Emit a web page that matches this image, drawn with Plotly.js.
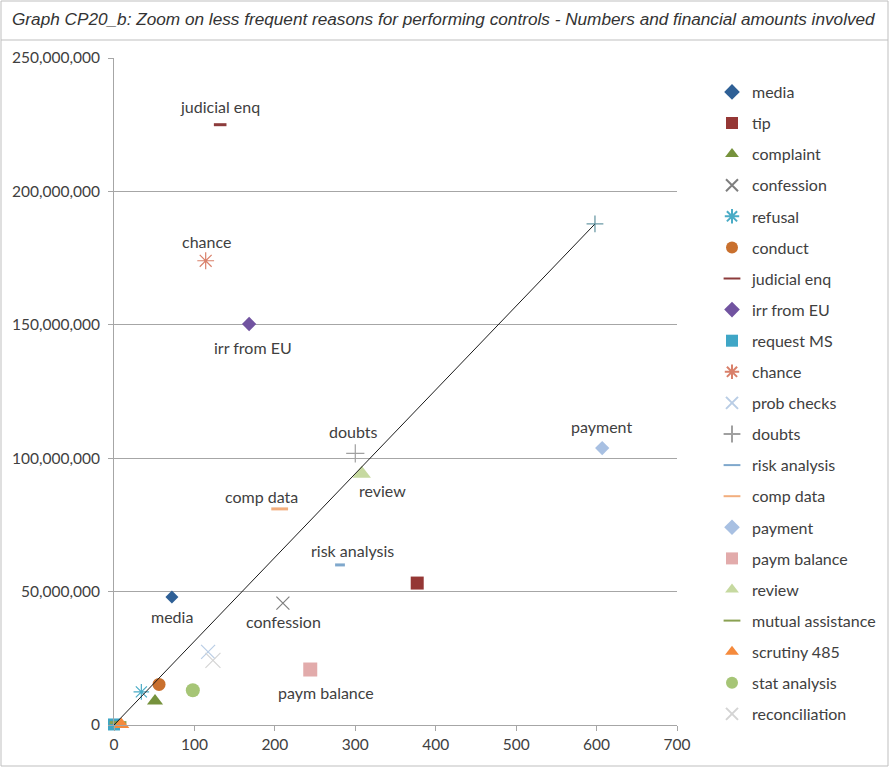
<!DOCTYPE html>
<html>
<head>
<meta charset="utf-8">
<script src="https://cdn.plot.ly/plotly-3.0.1.min.js"></script>
<style>
  html, body { margin: 0; padding: 0; background: #fff; }
  #chart { width: 889px; height: 767px; }
</style>
</head>
<body>
<div id="chart"></div>
<script>
// Reasons for performing controls: number of controls (x) vs. financial amount (y)
const reasons = ["media", "tip", "complaint", "confession", "refusal", "conduct",
  "judicial enq", "irr from EU", "request MS", "chance", "prob checks", "doubts",
  "risk analysis", "comp data", "payment", "paym balance", "review",
  "mutual assistance", "scrutiny 485", "stat analysis", "reconciliation"];
const numbers = [72, 377, 51, 210, 34, 56, 132, 168, 0, 114, 117, 300,
  281, 206, 607, 244, 308, 5, 9, 98, 123];
const amounts = [48000000, 53200000, 9000000, 45700000, 12400000, 15200000,
  225000000, 150300000, 200000, 174000000, 27400000, 101800000,
  60000000, 81000000, 103800000, 20800000, 94200000, 900000, 200000, 13000000, 24200000];

// Trend line through the origin
const trendX = [0, 598];
const trendY = [0, 187800000];

const symbols = ["diamond", "square", "triangle-up", "x-thin-open", "asterisk-open", "circle",
  "line-ew", "diamond", "square", "asterisk-open", "x-thin-open", "cross-thin-open",
  "line-ew", "line-ew", "diamond", "square", "triangle-up",
  "line-ew", "triangle-up", "circle", "x-thin-open"];
const colors = ["#2f6096", "#953735", "#76923c", "#7f7f7f", "#4bacc6", "#c9702e",
  "#8c3b3b", "#7153a0", "#3fa6c6", "#d9806a", "#b9cde5", "#a0a0a0",
  "#7fa8cc", "#f2ae7e", "#a8c0e2", "#e2abab", "#c6d9a0",
  "#8aa152", "#f58a3c", "#a6c576", "#d4d4d4"];
const sizes = [10, 13, 14, 13, 13, 13, 9, 11, 12, 14, 14, 13,
  7, 12, 11, 14, 16, 12, 14, 14, 15];

// Labels placed beside selected points (pixel offsets)
const labelled = {
  "media": [0, -20], "confession": [1, -18], "paym balance": [16, -23],
  "risk analysis": [12, 14], "comp data": [-18, 12], "review": [21, -17],
  "doubts": [-2, 22], "payment": [-1, 22], "irr from EU": [4, -23],
  "chance": [1, 19], "judicial enq": [0, 18]
};

const labelFont = { family: "Lato, 'Open Sans', sans-serif", size: 16, color: "#404040" };
const tickFont = { family: "Lato, 'Open Sans', sans-serif", size: 15.5, color: "#404040" };

const traces = reasons.map((name, i) => {
  const lineSym = symbols[i] === "line-ew";
  const thin = symbols[i].indexOf("open") >= 0;
  return {
    type: "scatter", mode: "markers", name: name,
    x: [numbers[i]], y: [amounts[i]],
    legendgroup: "g" + i,
    cliponaxis: false,
    marker: {
      symbol: symbols[i], size: sizes[i], color: colors[i],
      line: { color: colors[i], width: lineSym ? 3 : (thin ? 1.2 : 0) }
    },
    hoverinfo: "name+x+y"
  };
});

traces.push({
  type: "scatter", mode: "lines+markers", x: trendX, y: trendY,
  showlegend: false, hoverinfo: "skip", cliponaxis: false,
  line: { color: "#1a1a1a", width: 1 },
  marker: { symbol: "cross-thin-open", size: [0, 12], color: "#2c6f80",
            line: { color: "#2c6f80", width: 1.3 } }
});

const annotations = Object.keys(labelled).map(name => {
  const i = reasons.indexOf(name);
  return {
    x: numbers[i], y: amounts[i], xref: "x", yref: "y",
    text: name, showarrow: false,
    xshift: labelled[name][0], yshift: labelled[name][1],
    font: labelFont
  };
});

const layout = {
  width: 889, height: 767,
  margin: { l: 114, r: 212, t: 58, b: 42, autoexpand: false },
  paper_bgcolor: "#ffffff", plot_bgcolor: "#ffffff",
  title: {
    text: "Graph CP20_b: Zoom on less frequent reasons for performing controls - Numbers and financial amounts involved",
    font: { family: "'Liberation Sans', Arial, sans-serif", size: 17.2, color: "#333333", style: "italic" },
    x: 12 / 889, xanchor: "left", xref: "container",
    y: 1 - 19 / 767, yanchor: "middle", yref: "container"
  },
  xaxis: {
    range: [0, 700], dtick: 100, tick0: 0,
    showgrid: false, zeroline: false,
    showline: true, linecolor: "#a6a6a6", linewidth: 1,
    ticks: "outside", ticklen: 5, tickcolor: "#a6a6a6",
    tickfont: tickFont
  },
  yaxis: {
    range: [0, 250000000], dtick: 50000000, tick0: 0,
    tickformat: ",d",
    showgrid: true, gridcolor: "#a6a6a6", gridwidth: 1,
    zeroline: false,
    showline: true, linecolor: "#a6a6a6", linewidth: 1,
    ticks: "outside", ticklen: 5, tickcolor: "#a6a6a6",
    ticklabelstandoff: 5,
    tickfont: tickFont
  },
  legend: {
    xref: "container", yref: "container",
    x: 712 / 889, xanchor: "left", y: 1 - 75 / 767, yanchor: "top",
    font: labelFont, itemsizing: "constant",
    tracegroupgap: 7.3, bgcolor: "rgba(0,0,0,0)", maxheight: 767
  },
  annotations: annotations,
  shapes: [
    // outer frame and title separator
    { type: "rect", xref: "paper", yref: "paper",
      x0: -113 / 563, x1: 774 / 563, y0: -41 / 667, y1: 724 / 667,
      line: { color: "#bfbfbf", width: 1 } },
    { type: "line", xref: "paper", yref: "paper",
      x0: -113 / 563, x1: 774 / 563, y0: 685 / 667, y1: 685 / 667,
      line: { color: "#bfbfbf", width: 1 } }
  ],
  showlegend: true
};

Plotly.newPlot("chart", traces, layout, { displayModeBar: false, responsive: false });
</script>
</body>
</html>
